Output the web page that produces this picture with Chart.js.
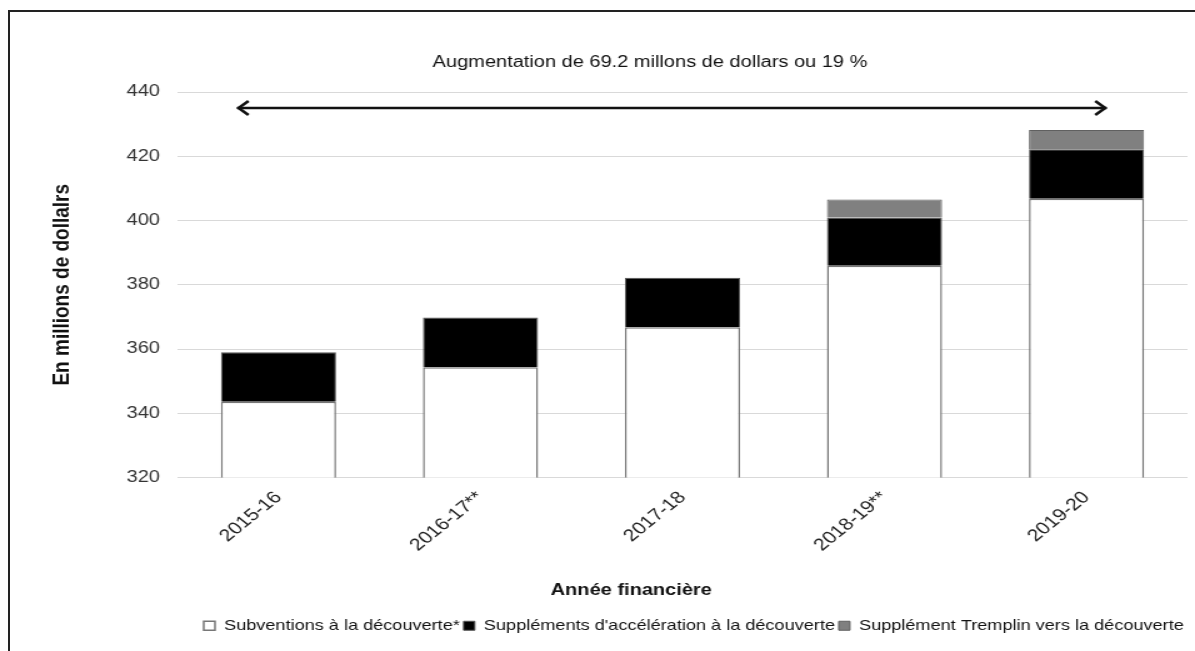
<!DOCTYPE html>
<html>
<head>
<meta charset="utf-8">
<script src="https://cdn.jsdelivr.net/npm/chart.js@4"></script>
<style>
  html, body { margin: 0; padding: 0; background: #fff; overflow: hidden; }
  #wrap { position: relative; width: 1195px; height: 651px; overflow: hidden; }
  #frame { position: absolute; left: 8px; top: 10px; width: 1300px; height: 800px;
           border-left: 2px solid #222; border-top: 2px solid #222; }
  /* l'original est étiré horizontalement (~1.25) */
  #etire { position: absolute; left: 0; top: 0; width: 956px; height: 651px;
           transform: scaleX(1.25); transform-origin: 0 0; }
</style>
</head>
<body>
<div id="wrap">
  <div id="frame"></div>
  <div id="etire"><canvas id="chart" width="956" height="651"></canvas></div>
</div>
<script>
// données (millions de dollars)
const annees = ["2015-16", "2016-17**", "2017-18", "2018-19**", "2019-20"];
const subventions = [343.6, 354.3, 366.8, 385.9, 406.8];
const acceleration = [15.4, 15.5, 15.4, 15.0, 15.4];
const tremplin = [0, 0, 0, 5.6, 6.0];

const titreAugmentation = "Augmentation de 69.2 millons de dollars ou 19 %";
const titreX = "Année financière";
const niveauFleche = 435;

const police = '"Liberation Sans", Arial, sans-serif';

// flèche + textes (titre du haut, titre de l'axe x)
const flechePlugin = {
    id: 'fleche',
    afterDraw(chart) {
        const ctx = chart.ctx;
        const x = chart.scales.x, y = chart.scales.y;
        const x0 = x.getPixelForValue(0) - 33;
        const x1 = x.getPixelForValue(4) + 16;
        const yy = y.getPixelForValue(niveauFleche);
        ctx.save();
        ctx.strokeStyle = '#111';
        ctx.lineWidth = 2.5;
        ctx.beginPath();
        ctx.moveTo(x0, yy); ctx.lineTo(x1, yy);
        ctx.stroke();
        ctx.beginPath();
        ctx.moveTo(x0 + 9, yy - 7); ctx.lineTo(x0 + 1, yy); ctx.lineTo(x0 + 9, yy + 7);
        ctx.moveTo(x1 - 9, yy - 7); ctx.lineTo(x1 - 1, yy); ctx.lineTo(x1 - 9, yy + 7);
        ctx.stroke();
        ctx.fillStyle = '#111';
        ctx.textAlign = 'center';
        ctx.textBaseline = 'middle';
        ctx.font = '16px ' + police;
        ctx.fillText(titreAugmentation, 520, 63);
        ctx.font = 'bold 16px ' + police;
        ctx.fillText(titreX, 505, 591);
        ctx.restore();
    }
};

new Chart(document.getElementById("chart").getContext("2d"), {
    type: 'bar',
    data: {
        labels: annees,
        datasets: [
            {
                label: 'Subventions à la découverte*',
                data: subventions,
                backgroundColor: '#ffffff',
                borderColor: '#777777',
                borderWidth: 1.5
            },
            {
                label: "Suppléments d'accélération à la découverte",
                data: acceleration,
                backgroundColor: '#000000',
                borderColor: '#555555',
                borderWidth: 1
            },
            {
                label: 'Supplément Tremplin vers la découverte',
                data: tremplin,
                backgroundColor: '#808080',
                borderColor: '#606060',
                borderWidth: 1
            }
        ]
    },
    options: {
        responsive: false,
        animation: false,
        layout: { padding: { top: 92, right: 6, left: 0, bottom: 8 } },
        datasets: { bar: { categoryPercentage: 0.57, barPercentage: 1.0 } },
        scales: {
            x: {
                stacked: true,
                grid: { display: false },
                border: { display: false },
                ticks: {
                    minRotation: 45, maxRotation: 45,
                    padding: 2,
                    color: '#222',
                    font: { family: police, size: 17 }
                },
                afterFit: s => { s.height = 138; }
            },
            y: {
                stacked: true,
                min: 320, max: 440,
                ticks: {
                    stepSize: 20,
                    padding: 14,
                    color: '#333',
                    font: { family: police, size: 16 }
                },
                grid: { color: '#d9d9d9', drawTicks: false },
                border: { display: false },
                title: {
                    display: true,
                    text: 'En millions de dollalrs',
                    color: '#111',
                    padding: { top: 38, bottom: 0 },
                    font: { family: police, size: 19, weight: 'bold' }
                },
                afterFit: s => { s.width = 142; }
            }
        },
        plugins: {
            legend: {
                position: 'bottom',
                align: 'end',
                labels: {
                    boxWidth: 9, boxHeight: 9,
                    padding: 3,
                    color: '#111',
                    font: { family: police, size: 14.5 }
                }
            },
            tooltip: { enabled: false }
        }
    },
    plugins: [flechePlugin]
});
</script>
</body>
</html>
